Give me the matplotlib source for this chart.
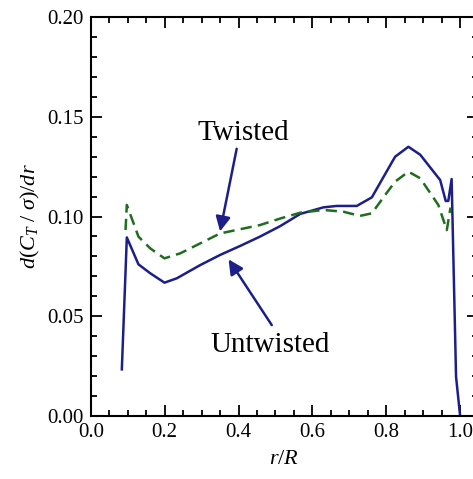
import numpy as np
import matplotlib
matplotlib.use('Agg')
import matplotlib.pyplot as plt
from matplotlib.ticker import MultipleLocator

plt.rcParams['font.family'] = ['Liberation Serif', 'DejaVu Serif']
plt.rcParams['mathtext.fontset'] = 'custom'
plt.rcParams['mathtext.rm'] = 'Liberation Serif'
plt.rcParams['mathtext.it'] = 'Liberation Serif:italic'

# untwisted blade (solid)
r_untw = [0.084, 0.0975, 0.129, 0.161, 0.1995, 0.233, 0.296, 0.35, 0.404, 0.458,
          0.513, 0.567, 0.63, 0.666, 0.72, 0.761, 0.797, 0.824, 0.86, 0.892,
          0.946, 0.961, 0.968, 0.977, 0.989, 1.0]
ct_untw = [0.0233, 0.0895, 0.076, 0.0715, 0.0668, 0.069, 0.0756, 0.0807, 0.0852, 0.0899,
           0.0952, 0.1013, 0.1046, 0.1053, 0.1053, 0.1096, 0.1213, 0.130, 0.135, 0.131,
           0.1183, 0.1078, 0.1078, 0.1188, 0.0196, 0.0]

# twisted blade (dashed)
r_tw = [0.094, 0.0975, 0.129, 0.161, 0.1995, 0.242, 0.296, 0.35, 0.404, 0.458,
        0.513, 0.567, 0.63, 0.684, 0.729, 0.761, 0.797, 0.824, 0.86, 0.892,
        0.941, 0.964, 0.974]
ct_tw = [0.0932, 0.1058, 0.0899, 0.084, 0.079, 0.0815, 0.0865, 0.0915, 0.0936, 0.0957,
         0.099, 0.1019, 0.1033, 0.1024, 0.1003, 0.1016, 0.1108, 0.1175, 0.1225, 0.1192,
         0.1058, 0.0932, 0.1045]

# labels: (text, text position, arrow tail, arrow tip)
labels = [
    ('Twisted', (0.412, 0.142), (0.395, 0.134), (0.35, 0.0925)),
    ('Untwisted', (0.486, 0.0355), (0.49, 0.0455), (0.373, 0.0785)),
]

navy = '#1c1f8a'
green = '#1e6e1e'

fig = plt.figure(figsize=(4.73, 4.79), dpi=100)
ax = fig.add_axes([0.192, 0.132, 0.819, 0.832])

ax.plot(r_untw, ct_untw, color=navy, lw=1.8)
ax.plot(r_tw, ct_tw, color=green, lw=1.8, ls=(0, (4.5, 2.5)))

for txt, tpos, tail, tip in labels:
    ax.text(*tpos, txt, ha='center', va='center', fontsize=21)
    ax.annotate('', xy=tip, xytext=tail,
                arrowprops=dict(arrowstyle='-|>', color=navy, lw=1.8,
                                mutation_scale=22, shrinkA=0, shrinkB=0))

ax.set_xlim(0, 1.049)
ax.set_ylim(0, 0.2)
ax.xaxis.set_major_locator(MultipleLocator(0.2))
ax.xaxis.set_minor_locator(MultipleLocator(0.05))
ax.yaxis.set_major_locator(MultipleLocator(0.05))
ax.yaxis.set_minor_locator(MultipleLocator(0.01))
ax.xaxis.set_major_formatter(plt.FuncFormatter(lambda v, p: f'{v:.1f}'))
ax.yaxis.set_major_formatter(plt.FuncFormatter(lambda v, p: f'{v:.2f}'))
ax.tick_params(which='both', direction='in', top=True, right=True,
               labelsize=15, width=1.3)
ax.tick_params(which='major', length=8, pad=5)
ax.tick_params(which='minor', length=4)
for s in ax.spines.values():
    s.set_linewidth(1.5)

ax.set_xlabel('$r/R$', fontsize=16, labelpad=6)
ax.set_ylabel(r'$d(C_T\ /\ \sigma)/dr$', fontsize=16, labelpad=4)

fig.savefig('out.png', dpi=100)
